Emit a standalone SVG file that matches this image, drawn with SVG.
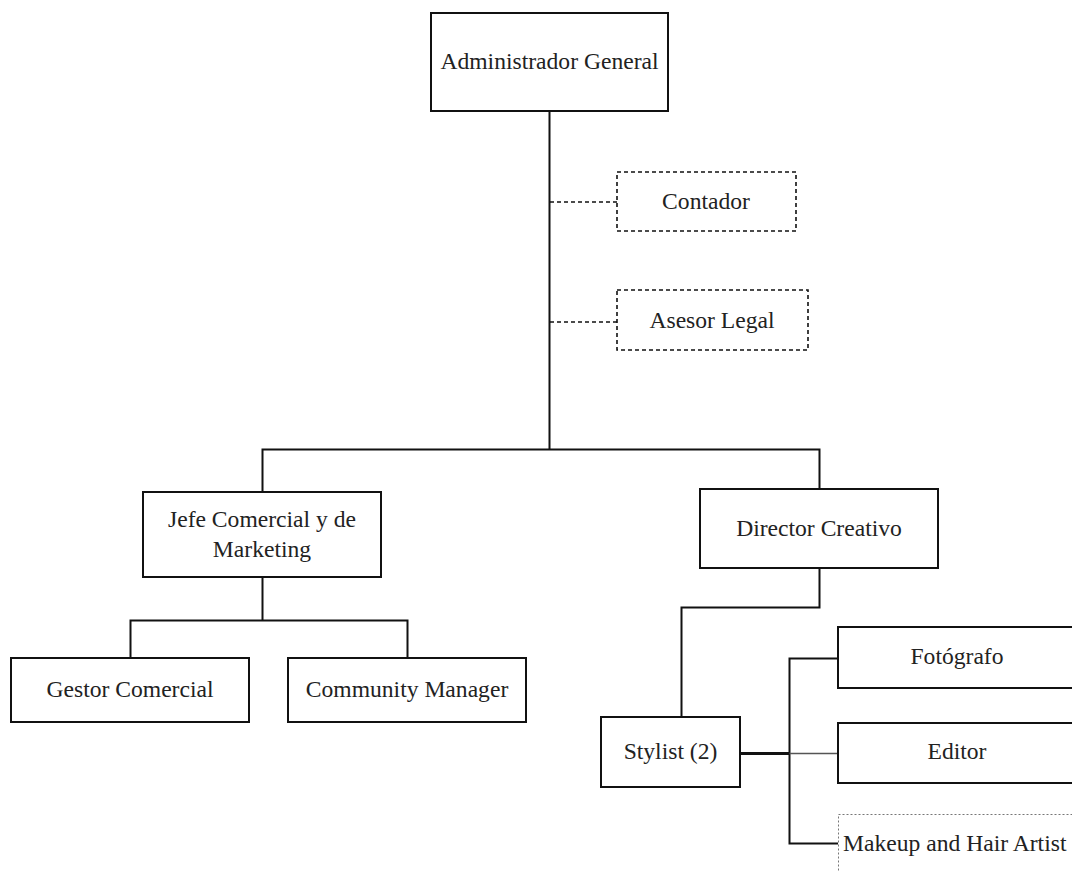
<svg xmlns="http://www.w3.org/2000/svg" width="1072" height="871" viewBox="0 0 1072 871">
  <style>
    .box { fill: #ffffff; stroke: #111111; stroke-width: 2; }
    .dash { fill: #ffffff; stroke: #111111; stroke-width: 1.6; stroke-dasharray: 4 3; }
    .dot { fill: #ffffff; stroke: #777777; stroke-width: 1; stroke-dasharray: 2 2; }
    .lbl { font-family: "Liberation Serif", "Times New Roman", serif; font-size: 23.6px; fill: #222222; text-anchor: middle; }
    .ln { fill: none; stroke: #111111; stroke-width: 2; }
    .lnd { fill: none; stroke: #111111; stroke-width: 1.6; stroke-dasharray: 4 3; }
  </style>
  <rect width="1072" height="871" fill="#ffffff"/>

  <g id="connectors">
    <path class="ln" d="M549.5 111 V449.5"/>
    <path class="lnd" d="M550 202 H617"/>
    <path class="lnd" d="M550 322 H617"/>
    <path class="ln" d="M262.5 492 V449.5 H819.5 V489"/>
    <path class="ln" d="M262.5 577 V620.5"/>
    <path class="ln" d="M130.5 658 V620.5 H407.5 V658"/>
    <path class="ln" d="M819.5 568 V607.5 H681.5 V717"/>
    <path class="ln" d="M838 658.5 H789.5 V843.5 H838"/>
    <path fill="none" stroke="#111111" stroke-width="3" d="M740 753.5 H789.5"/>
    <path fill="none" stroke="#555555" stroke-width="1.5" d="M789.5 753.5 H838"/>
  </g>

  <g id="administrador-general">
    <rect class="box" x="431" y="13" width="237" height="98"/>
    <text class="lbl" x="549.5" y="69">Administrador General</text>
  </g>
  <g id="contador">
    <rect class="dash" x="617" y="172" width="179" height="59"/>
    <text class="lbl" x="706" y="209">Contador</text>
  </g>
  <g id="asesor-legal">
    <rect class="dash" x="617" y="290" width="191" height="60"/>
    <text class="lbl" x="712" y="328">Asesor Legal</text>
  </g>
  <g id="jefe-comercial">
    <rect class="box" x="143" y="492" width="238" height="85"/>
    <text class="lbl" x="262" y="527">Jefe Comercial y de</text>
    <text class="lbl" x="262" y="557">Marketing</text>
  </g>
  <g id="director-creativo">
    <rect class="box" x="700" y="489" width="238" height="79"/>
    <text class="lbl" x="819" y="536">Director Creativo</text>
  </g>
  <g id="gestor-comercial">
    <rect class="box" x="11" y="658" width="238" height="64"/>
    <text class="lbl" x="130" y="697">Gestor Comercial</text>
  </g>
  <g id="community-manager">
    <rect class="box" x="288" y="658" width="238" height="64"/>
    <text class="lbl" x="407" y="697">Community Manager</text>
  </g>
  <g id="stylist">
    <rect class="box" x="601" y="717" width="139" height="70"/>
    <text class="lbl" x="670.5" y="759">Stylist (2)</text>
  </g>
  <g id="fotografo">
    <rect class="box" x="838" y="627" width="238" height="61"/>
    <text class="lbl" x="957" y="664">Fotógrafo</text>
  </g>
  <g id="editor">
    <rect class="box" x="838" y="723" width="238" height="60"/>
    <text class="lbl" x="957" y="759">Editor</text>
  </g>
  <g id="makeup-hair-artist">
    <rect class="dot" x="838.5" y="814.5" width="238" height="62"/>
    <text class="lbl" x="843" y="851" style="text-anchor:start">Makeup and Hair Artist</text>
  </g>
</svg>
